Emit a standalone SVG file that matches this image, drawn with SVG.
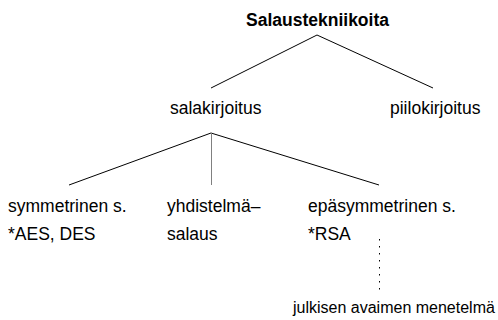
<svg xmlns="http://www.w3.org/2000/svg" width="498" height="320" viewBox="0 0 498 320">
<style>
text{font-family:"Liberation Sans",Arial,sans-serif;font-size:17.5px;fill:#000}
.b{font-weight:bold}
.ln{stroke:#000;stroke-width:1;fill:none}
.v{stroke:#808080;stroke-width:1;fill:none}
.dot{stroke:#000;stroke-width:1;stroke-dasharray:1.5 5.5;fill:none}
.sm{font-size:16px}
</style>
<rect width="498" height="320" fill="#fff"/>
<g id="connectors">
<path class="ln" d="M211 88 L317 35 L433 88"/>
<path class="ln" d="M69 185 L211 133 L379 185"/>
<path class="v" d="M211.5 133 L211.5 185"/>
<path class="dot" d="M379.5 239 L379.5 291"/>
</g>
<g id="root"><text class="b" x="317.5" y="26" text-anchor="middle">Salaustekniikoita</text></g>
<g id="salakirjoitus"><text x="170" y="114">salakirjoitus</text></g>
<g id="piilokirjoitus"><text x="390" y="114">piilokirjoitus</text></g>
<g id="symmetrinen"><text x="8" y="212">symmetrinen s.</text><text x="8" y="240">*AES, DES</text></g>
<g id="yhdistelma"><text x="167" y="212">yhdistelmä–</text><text x="167" y="240">salaus</text></g>
<g id="epasymmetrinen"><text x="308" y="212">epäsymmetrinen s.</text><text x="308" y="240">*RSA</text></g>
<g id="julkisen"><text class="sm" x="293" y="313">julkisen avaimen menetelmä</text></g>
</svg>
